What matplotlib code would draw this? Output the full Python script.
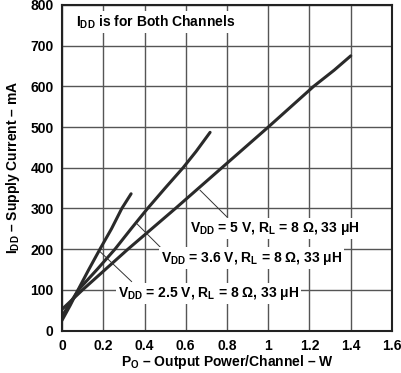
import matplotlib
matplotlib.use("Agg")
import matplotlib.pyplot as plt

plt.rcParams['font.family'] = ['Liberation Sans', 'DejaVu Sans']
plt.rcParams['font.weight'] = 'bold'
plt.rcParams['mathtext.fontset'] = 'custom'
plt.rcParams['mathtext.rm'] = 'Liberation Sans:bold'
plt.rcParams['mathtext.bf'] = 'Liberation Sans:bold'
plt.rcParams['mathtext.it'] = 'Liberation Sans:bold'

# Data
p_25 = [0.0, 0.04, 0.078, 0.13, 0.184, 0.24, 0.29, 0.335]
i_25 = [25, 62, 100, 150, 200, 250, 300, 336]

p_36 = [0.0, 0.04, 0.08, 0.17, 0.257, 0.335, 0.415, 0.50, 0.587, 0.65, 0.718]
i_36 = [35, 68, 100, 150, 200, 250, 300, 350, 400, 440, 487]

p_50 = [0.0, 0.05, 0.10, 0.21, 0.32, 0.55, 0.775, 1.0, 1.22, 1.32, 1.40]
i_50 = [52, 76, 100, 150, 200, 300, 400, 500, 600, 640, 675]

x_ticks = [0, 0.2, 0.4, 0.6, 0.8, 1, 1.2, 1.4, 1.6]
x_tick_labels = ['0', '0.2', '0.4', '0.6', '0.8', '1', '1.2', '1.4', '1.6']
y_ticks = [0, 100, 200, 300, 400, 500, 600, 700, 800]

fig = plt.figure(figsize=(4.02, 3.73), dpi=100)
ax = fig.add_axes([62/402, 1-330.5/373, (392-62)/402, (330.5-5)/373])

ax.set_xlim(0, 1.6)
ax.set_ylim(0, 800)
ax.set_xticks(x_ticks)
ax.set_xticklabels(x_tick_labels)
ax.set_yticks(y_ticks)
ax.tick_params(length=0, labelsize=10, pad=6)
for lab in ax.get_xticklabels() + ax.get_yticklabels():
    lab.set_fontweight('bold')
ax.grid(True, color='#555555', linewidth=1.0)
ax.set_axisbelow(True)
for s in ax.spines.values():
    s.set_linewidth(1.5)
    s.set_color('#222222')

lc = '#2a2a2a'
ax.plot(p_25, i_25, color=lc, lw=2.2, solid_capstyle='round')
ax.plot(p_36, i_36, color=lc, lw=2.2, solid_capstyle='round')
ax.plot(p_50, i_50, color=lc, lw=2.2, solid_capstyle='round')

box = dict(facecolor='white', edgecolor='none', pad=1.5)
ax.text(0.07, 758, r'$\mathrm{I_{DD}}$ is for Both Channels', fontsize=10,
        fontweight='bold', va='center', ha='left', bbox=box)

leader = dict(arrowstyle='-', color='#333333', lw=0.7, shrinkA=0, shrinkB=0)
ax.annotate('', xy=(0.669, 345), xytext=(0.80, 279), arrowprops=leader)
ax.annotate('', xy=(0.362, 263), xytext=(0.49, 198), arrowprops=leader)
ax.annotate('', xy=(0.184, 194), xytext=(0.338, 120), arrowprops=leader)

ax.text(0.62, 250, r'$\mathrm{V_{DD}}$ = 5 V, $\mathrm{R_L}$ = 8 Ω, 33 μH',
        fontsize=10, fontweight='bold', va='center', ha='left', bbox=box)
ax.text(0.48, 178, r'$\mathrm{V_{DD}}$ = 3.6 V, $\mathrm{R_L}$ = 8 Ω, 33 μH',
        fontsize=10, fontweight='bold', va='center', ha='left', bbox=box)
ax.text(0.27, 90, r'$\mathrm{V_{DD}}$ = 2.5 V, $\mathrm{R_L}$ = 8 Ω, 33 μH',
        fontsize=10, fontweight='bold', va='center', ha='left', bbox=box)

ax.set_xlabel(r'$\mathrm{P_O}$ – Output Power/Channel – W', fontsize=10,
              fontweight='bold', labelpad=0)
ax.set_ylabel(r'$\mathrm{I_{DD}}$ – Supply Current – mA', fontsize=10,
              fontweight='bold', labelpad=6)

fig.savefig('out.png', dpi=100)
